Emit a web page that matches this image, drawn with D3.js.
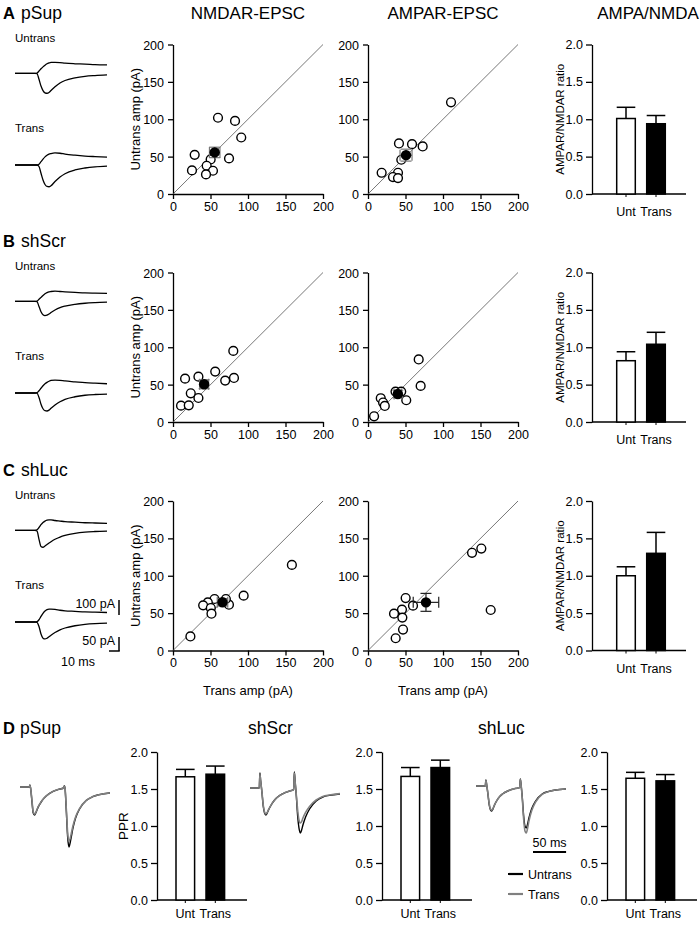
<!DOCTYPE html>
<html><head><meta charset="utf-8">
<script src="https://cdn.jsdelivr.net/npm/d3@7"></script>
<style>body{margin:0;background:#fff} svg{display:block;font-family:"Liberation Sans",Arial,sans-serif}</style>
</head><body><svg id="c" width="700" height="925"></svg>
<script>
// ---------------- DATA ----------------
const groups = ["pSup", "shScr", "shLuc"];
const rowLetters = ["A", "B", "C"];
const columnTitles = ["NMDAR-EPSC", "AMPAR-EPSC", "AMPA/NMDA"];
const scatterTicks = [0, 50, 100, 150, 200];
const barTicks = [0, 0.5, 1.0, 1.5, 2.0];
const barCats = ["Unt", "Trans"];

// NMDAR-EPSC amplitudes (pA): x = Trans, y = Untrans
const pSupNmdaTrans   = [60, 82.7, 91, 28.9, 74.7, 50.2, 44.9, 25.3, 53.3, 44];
const pSupNmdaUntrans = [102, 97.8, 75.6, 52.4, 47.6, 46.2, 37.8, 31.6, 31.1, 26.2];
const shScrNmdaTrans   = [80.4, 56.3, 16.1, 33.9, 69.6, 81.3, 23.7, 33.9, 10.7, 21];
const shScrNmdaUntrans = [95.1, 67.4, 58, 60.7, 55.4, 58.9, 38.4, 32.1, 21.9, 22.3];
const shLucNmdaTrans   = [158.5, 94.2, 55.4, 46.4, 40.2, 50.4, 51.3, 23.2, 74.6, 70.5];
const shLucNmdaUntrans = [114.5, 73.4, 68.9, 64.4, 60.4, 56.8, 49.2, 18.8, 61.3, 68.9];
// AMPAR-EPSC amplitudes (pA)
const pSupAmpaTrans   = [110.7, 41.3, 58.7, 72.9, 44.4, 18.2, 40, 33.3, 40];
const pSupAmpaUntrans = [122.7, 67.6, 66.7, 63.6, 45.8, 28.4, 28.4, 22.7, 21.3];
const shScrAmpaTrans   = [67.6, 70.2, 17, 20.1, 22.4, 8.1, 51, 36.7, 44.3];
const shScrAmpaUntrans = [83.7, 48.3, 31.8, 26, 21.5, 7.6, 29.1, 40.7, 40.7];
const shLucAmpaTrans   = [151.1, 138.7, 163.6, 50.2, 60, 45.3, 34.7, 45.8, 46.7, 36.9];
const shLucAmpaUntrans = [136.4, 130.7, 54.2, 70.2, 60, 54.7, 49.3, 44, 28, 16.4];
// means [trans, untrans] and SEM [trans, untrans]
const nmdaMean = [[55.6, 55.6], [41.5, 50.5], [66, 64.5]];
const nmdaSem  = [[7, 7], [6, 6], [7, 5]];
const ampaMean = [[50.7, 52], [39.8, 37.5], [77.3, 64.4]];
const ampaSem  = [[8, 8], [5, 5], [17, 12]];

// AMPA/NMDA ratio
const ratioUnt      = [1.01, 0.82, 1.00];
const ratioUntSem   = [0.15, 0.12, 0.12];
const ratioTrans    = [0.94, 1.04, 1.30];
const ratioTransSem = [0.11, 0.16, 0.28];
// Paired-pulse ratio
const pprUnt      = [1.665, 1.67, 1.645];
const pprUntSem   = [0.10, 0.12, 0.08];
const pprTrans    = [1.70, 1.79, 1.61];
const pprTransSem = [0.11, 0.10, 0.085];

// Example EPSC traces (time ms, current pA relative to baseline)
const traceTime = [0, 20, 22, 24, 26, 28, 30, 32, 34, 36, 40, 45, 50, 60, 70, 80, 92];
const pSupUntAmpa  = [0, 0, -2, -40, -85, -115, -130, -133, -128, -115, -90, -65, -48, -30, -20, -15, -11];
const pSupUntNmda  = [0, 0, 1, 8, 16, 23, 29, 34, 37, 39, 39, 38, 36, 34, 33, 31, 30];
const pSupTrAmpa   = [0, 0, 0, -10, -55, -100, -130, -143, -145, -138, -110, -80, -58, -33, -20, -12, -7];
const pSupTrNmda   = [0, 0, 0, 3, 12, 21, 29, 35, 39, 41, 43, 42, 39, 35, 32, 30, 28];
const shScrUntAmpa = [0, 0, -2, -35, -70, -90, -95, -92, -85, -75, -58, -42, -32, -20, -13, -9, -6];
const shScrUntNmda = [0, 0, 1, 7, 14, 21, 27, 31, 34, 35, 36, 35, 34, 32, 30, 29, 28];
const shScrTrAmpa  = [0, 0, -1, -30, -75, -105, -118, -120, -114, -102, -80, -58, -42, -25, -15, -10, -7];
const shScrTrNmda  = [0, 0, 1, 8, 17, 26, 33, 38, 42, 45, 46, 45, 43, 40, 37, 35, 33];
const shLucUntAmpa = [0, 0, -5, -60, -108, -113, -105, -95, -85, -76, -60, -45, -34, -20, -12, -8, -5];
const shLucUntNmda = [0, 0, 2, 10, 20, 28, 33, 36, 37, 37, 35, 33, 31, 29, 27, 26, 25];
const shLucTrAmpa  = [0, 0, -2, -30, -80, -108, -113, -108, -98, -88, -70, -52, -40, -25, -16, -11, -8];
const shLucTrNmda  = [0, 0, 1, 8, 20, 31, 39, 44, 46, 46, 45, 42, 40, 38, 36, 35, 34];

// Paired-pulse traces
const ppTime = [0, 14, 15, 16, 18, 20, 22, 24, 26, 28, 32, 36, 40, 50, 60, 66, 67, 68, 70, 72, 74, 76, 78, 80, 84, 90, 100, 110, 120, 136];
const pSupPpUnt  = [0, 0, 10, -5, -70, -130, -140, -128, -112, -97, -75, -57, -44, -22, -10, -5, 6, -5, -120, -250, -300, -275, -240, -205, -155, -110, -68, -48, -38, -30];
const pSupPpTr   = [0, 0, 8, -5, -65, -125, -136, -126, -110, -95, -74, -57, -44, -22, -10, -5, 5, -5, -110, -230, -272, -255, -225, -195, -150, -108, -67, -48, -38, -30];
const shScrPpUnt = [0, 0, 75, 40, -20, -90, -125, -135, -125, -110, -85, -65, -50, -28, -15, -8, 80, 40, -40, -140, -200, -225, -210, -185, -145, -105, -65, -45, -37, -30];
const shScrPpTr  = [0, 0, 70, 38, -18, -85, -120, -130, -122, -108, -84, -65, -50, -28, -15, -8, 75, 40, -35, -110, -160, -175, -168, -150, -122, -92, -60, -42, -35, -28];
const shLucPpUnt = [0, 0, 30, 10, -40, -95, -120, -125, -112, -95, -70, -52, -40, -22, -12, -8, 35, 10, -60, -150, -200, -210, -190, -160, -115, -75, -40, -27, -20, -15];
const shLucPpTr  = [0, 0, 28, 10, -38, -90, -116, -121, -110, -94, -70, -52, -40, -22, -12, -8, 32, 10, -65, -165, -225, -235, -210, -175, -125, -80, -42, -28, -20, -15];

// ---------------- DRAWING ----------------
const svg = d3.select("#c");
const FONT = '"Liberation Sans", Arial, sans-serif';
const rowTop = [44.5, 272.5, 501];
const rowOff = [0, 228, 457];
const plotH = 149.5;
const scatterX0 = [173, 368];

function txt(x, y, s, size, opts = {}) {
  const t = svg.append("text").attr("x", x).attr("y", y).text(s)
    .attr("font-size", size).attr("fill", "#000").attr("font-family", FONT);
  if (opts.anchor) t.attr("text-anchor", opts.anchor);
  if (opts.weight) t.attr("font-weight", opts.weight);
  if (opts.rotate) t.attr("transform", `rotate(-90,${x},${y})`);
  return t;
}

function styleAxis(g, fs) {
  g.select(".domain").attr("stroke", "#000").attr("stroke-width", 1.3);
  g.selectAll(".tick line").attr("stroke", "#000").attr("stroke-width", 1.3);
  g.selectAll(".tick text").attr("font-size", fs).attr("fill", "#000").attr("font-family", FONT);
}

function scatter(x0, top, trans, unt, mean, sem, ebColor) {
  const x = d3.scaleLinear().domain([0, 200]).range([x0, x0 + 150]);
  const y = d3.scaleLinear().domain([0, 200]).range([top + plotH, top]);
  const gx = svg.append("g").attr("transform", `translate(0,${top + plotH})`)
    .call(d3.axisBottom(x).tickValues(scatterTicks).tickSize(5).tickSizeOuter(0).tickPadding(3));
  styleAxis(gx, 12.5);
  const gy = svg.append("g").attr("transform", `translate(${x0},0)`)
    .call(d3.axisLeft(y).tickValues(scatterTicks).tickSize(5).tickSizeOuter(0).tickPadding(4));
  styleAxis(gy, 12.5);
  gy.selectAll(".tick text").attr("dy", "0.36em");
  svg.append("line").attr("x1", x(0)).attr("y1", y(0)).attr("x2", x(200)).attr("y2", y(200))
    .attr("stroke", "#555").attr("stroke-width", 0.8);
  svg.append("g").selectAll("circle").data(trans.map((t, i) => [t, unt[i]])).join("circle")
    .attr("cx", d => x(d[0])).attr("cy", d => y(d[1])).attr("r", 4.4)
    .attr("fill", "#fff").attr("stroke", "#000").attr("stroke-width", 1.4);
  const eb = svg.append("g").attr("stroke", ebColor).attr("stroke-width", 1.2).attr("fill", "none");
  const mx = x(mean[0]), my = y(mean[1]);
  const cap = 5.5;
  eb.append("line").attr("x1", x(mean[0] - sem[0])).attr("x2", x(mean[0] + sem[0])).attr("y1", my).attr("y2", my);
  eb.append("line").attr("x1", x(mean[0] - sem[0])).attr("x2", x(mean[0] - sem[0])).attr("y1", my - cap).attr("y2", my + cap);
  eb.append("line").attr("x1", x(mean[0] + sem[0])).attr("x2", x(mean[0] + sem[0])).attr("y1", my - cap).attr("y2", my + cap);
  eb.append("line").attr("y1", y(mean[1] - sem[1])).attr("y2", y(mean[1] + sem[1])).attr("x1", mx).attr("x2", mx);
  eb.append("line").attr("y1", y(mean[1] - sem[1])).attr("y2", y(mean[1] - sem[1])).attr("x1", mx - cap).attr("x2", mx + cap);
  eb.append("line").attr("y1", y(mean[1] + sem[1])).attr("y2", y(mean[1] + sem[1])).attr("x1", mx - cap).attr("x2", mx + cap);
  svg.append("circle").attr("cx", mx).attr("cy", my).attr("r", 5.2).attr("fill", "#000");
}

function bars(ax, top, h, unt, untSem, tr, trSem, offset, xLen, ylabel, labelX, labelDy) {
  const y = d3.scaleLinear().domain([0, 2]).range([top + h, top]);
  const xb = d3.scaleBand().domain(barCats).range([ax + offset, ax + offset + 48.6]).paddingInner(0.38).paddingOuter(0);
  const gy = svg.append("g").attr("transform", `translate(${ax},0)`)
    .call(d3.axisLeft(y).tickValues(barTicks).tickFormat(d3.format(".1f")).tickSize(6).tickSizeOuter(0).tickPadding(3));
  styleAxis(gy, 12.5);
  svg.append("line").attr("x1", ax).attr("x2", ax + xLen).attr("y1", y(0)).attr("y2", y(0))
    .attr("stroke", "#000").attr("stroke-width", 1.5);
  const vals = [[unt, untSem, "#fff"], [tr, trSem, "#000"]];
  barCats.forEach((c, i) => {
    const [v, s, f] = vals[i];
    const bx = xb(c), bw = xb.bandwidth();
    svg.append("line").attr("x1", bx + bw / 2).attr("x2", bx + bw / 2).attr("y1", y(v)).attr("y2", y(v + s))
      .attr("stroke", "#000").attr("stroke-width", 1.5);
    svg.append("line").attr("x1", bx).attr("x2", bx + bw).attr("y1", y(v + s)).attr("y2", y(v + s))
      .attr("stroke", "#000").attr("stroke-width", 1.5);
    svg.append("rect").attr("x", bx).attr("y", y(v)).attr("width", bw).attr("height", y(0) - y(v))
      .attr("fill", f).attr("stroke", "#000").attr("stroke-width", 1.5);
    svg.append("line").attr("x1", bx + bw / 2).attr("x2", bx + bw / 2).attr("y1", y(0)).attr("y2", y(0) + 3)
      .attr("stroke", "#000").attr("stroke-width", 1);
    txt(bx + bw / 2, y(0) + labelDy, c, 12.5, { anchor: "middle" });
  });
  if (ylabel) txt(labelX, top + h / 2, ylabel, ylabel === "PPR" ? 13.5 : 11.5, { anchor: "middle", rotate: true });
}

function trace(x0, base, ampScale, vals, color, width) {
  const x = d3.scaleLinear().domain([0, 92]).range([x0, x0 + 92]);
  const y = d3.scaleLinear().domain([0, 100]).range([base, base - 100 * ampScale]);
  svg.append("path").datum(traceTime.map((t, i) => [t, vals[i]]))
    .attr("d", d3.line().x(d => x(d[0])).y(d => y(d[1])).curve(d3.curveMonotoneX))
    .attr("fill", "none").attr("stroke", color).attr("stroke-width", width);
}

function ppTrace(x0, base, vals, color, width) {
  const x = d3.scaleLinear().domain([0, 136]).range([x0, x0 + 90]);
  const y = d3.scaleLinear().domain([0, -300]).range([base, base + 60]);
  svg.append("path").datum(ppTime.map((t, i) => [t, vals[i]]))
    .attr("d", d3.line().x(d => x(d[0])).y(d => y(d[1])).curve(d3.curveMonotoneX))
    .attr("fill", "none").attr("stroke", color).attr("stroke-width", width);
  return x;
}

txt(248, 19, columnTitles[0], 17, { anchor: "middle" });
txt(443, 19, columnTitles[1], 17, { anchor: "middle" });
txt(648, 19, columnTitles[2], 17, { anchor: "middle" });

const nmdaT = [pSupNmdaTrans, shScrNmdaTrans, shLucNmdaTrans];
const nmdaU = [pSupNmdaUntrans, shScrNmdaUntrans, shLucNmdaUntrans];
const ampaT = [pSupAmpaTrans, shScrAmpaTrans, shLucAmpaTrans];
const ampaU = [pSupAmpaUntrans, shScrAmpaUntrans, shLucAmpaUntrans];
const trUntAmpa = [pSupUntAmpa, shScrUntAmpa, shLucUntAmpa];
const trUntNmda = [pSupUntNmda, shScrUntNmda, shLucUntNmda];
const trTrAmpa = [pSupTrAmpa, shScrTrAmpa, shLucTrAmpa];
const trTrNmda = [pSupTrNmda, shScrTrNmda, shLucTrNmda];

const ampaK = 0.15, nmdaK = 0.28;

groups.forEach((g, r) => {
  const top = rowTop[r], off = rowOff[r];
  txt(3, 19 + off, rowLetters[r], 16.5, { weight: "bold" });
  txt(21, 19 + off, g, 17.5);
  txt(15, 42 + off, "Untrans", 11.5);
  txt(15, 132 + off, "Trans", 11.5);
  trace(15, 73.3 + off, nmdaK, trUntNmda[r], "#000", 1.3);
  trace(15, 73.3 + off, ampaK, trUntAmpa[r], "#000", 1.3);
  trace(15, 165 + off, nmdaK, trTrNmda[r], "#000", 1.3);
  trace(15, 165 + off, ampaK, trTrAmpa[r], "#000", 1.3);

  scatter(scatterX0[0], top, nmdaT[r], nmdaU[r], nmdaMean[r], nmdaSem[r], "#777");
  scatter(scatterX0[1], top, ampaT[r], ampaU[r], ampaMean[r], ampaSem[r], r === 2 ? "#222" : "#777");
  txt(140, top + plotH / 2, "Untrans amp (pA)", 13, { anchor: "middle", rotate: true });
  bars(592, top, plotH, ratioUnt[r], ratioUntSem[r], ratioTrans[r], ratioTransSem[r], 24.7, 94, "AMPAR/NMDAR ratio", 564, 22);
  if (r === 2) {
    txt(248, top + plotH + 44, "Trans amp (pA)", 13, { anchor: "middle" });
    txt(443, top + plotH + 44, "Trans amp (pA)", 13, { anchor: "middle" });
  }
});

// scale bars for traces (row C)
{
  const base = 615, xb = 119;
  const ya = d3.scaleLinear().domain([0, 100]).range([base, base - 100 * ampaK]);
  svg.append("line").attr("x1", xb).attr("x2", xb).attr("y1", ya(0)).attr("y2", ya(100)).attr("stroke", "#000").attr("stroke-width", 1.5);
  txt(115, 608, "100 pA", 12.5, { anchor: "end" });
  const base2 = 651;
  const yn = d3.scaleLinear().domain([0, 50]).range([base2, base2 - 50 * nmdaK]);
  svg.append("line").attr("x1", xb).attr("x2", xb).attr("y1", yn(0)).attr("y2", yn(50)).attr("stroke", "#000").attr("stroke-width", 1.5);
  const xt = d3.scaleLinear().domain([0, 10]).range([xb, xb - 10]);
  svg.append("line").attr("x1", xt(0) + 0.75).attr("x2", xt(10)).attr("y1", base2).attr("y2", base2).attr("stroke", "#000").attr("stroke-width", 1.5);
  txt(115, 645, "50 pA", 12.5, { anchor: "end" });
  txt(95, 666, "10 ms", 12.5, { anchor: "end" });
}

// Row D
const dTraceX = [20, 250, 476];
const dBase = [787, 788, 786];
const dAxis = [157, 382, 607];
const dLabelX = [20, 248, 478];
const ppU = [pSupPpUnt, shScrPpUnt, shLucPpUnt];
const ppT = [pSupPpTr, shScrPpTr, shLucPpTr];
txt(3, 734, "D", 16.5, { weight: "bold" });
groups.forEach((g, i) => {
  txt(dLabelX[i], 734, g, 17.5);
  ppTrace(dTraceX[i], dBase[i], ppU[i], "#000", 1.4);
  const xs = ppTrace(dTraceX[i], dBase[i], ppT[i], "#808080", 1.6);
  bars(dAxis[i], 752, 148, pprUnt[i], pprUntSem[i], pprTrans[i], pprTransSem[i], 19, 90, i === 0 ? "PPR" : null, 128, 18);
  if (i === 2) {
    const x50 = d3.scaleLinear().domain([0, 50]).range([533, 533 + (xs(50) - xs(0))]);
    svg.append("line").attr("x1", x50(0)).attr("x2", x50(50)).attr("y1", 852).attr("y2", 852).attr("stroke", "#000").attr("stroke-width", 1.8);
    txt((x50(0) + x50(50)) / 2, 847, "50 ms", 12.5, { anchor: "middle" });
  }
});
svg.append("line").attr("x1", 508).attr("x2", 523).attr("y1", 874).attr("y2", 874).attr("stroke", "#000").attr("stroke-width", 2.2);
txt(528, 879, "Untrans", 12.5);
svg.append("line").attr("x1", 508).attr("x2", 523).attr("y1", 894).attr("y2", 894).attr("stroke", "#808080").attr("stroke-width", 2.2);
txt(528, 899, "Trans", 12.5);
</script></body></html>
